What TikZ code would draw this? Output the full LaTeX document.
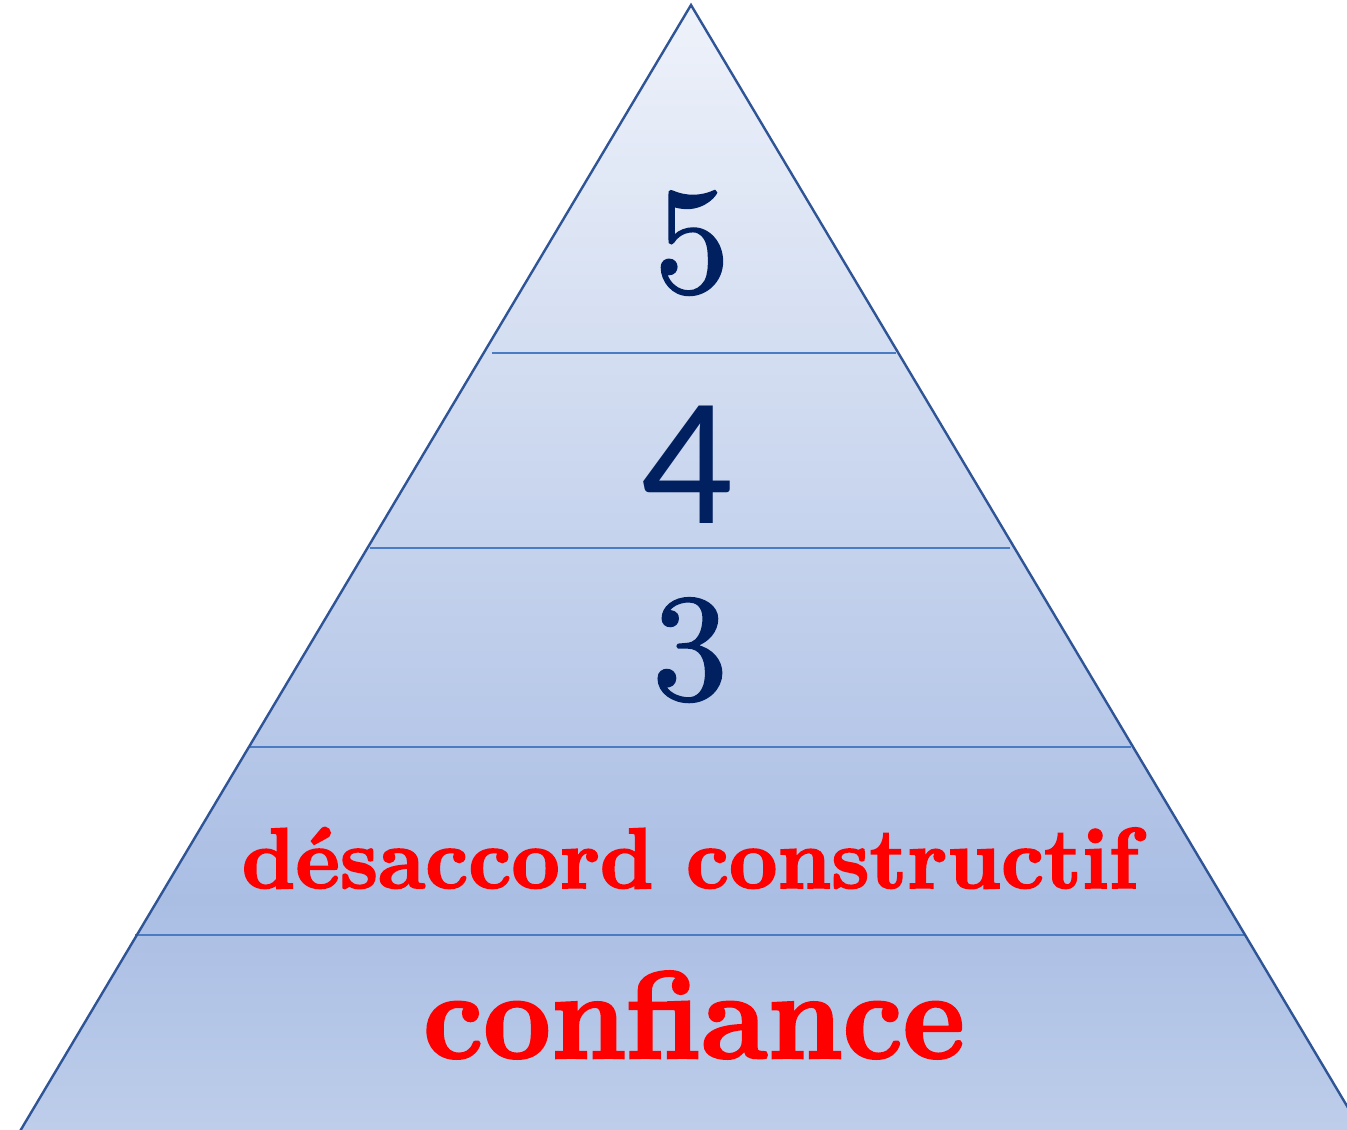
\documentclass[tikz,border=0pt]{standalone}
\usepackage{fontspec}
\setmainfont{Latin Modern Roman}
\newfontfamily\sansf{Carlito}
\newfontfamily\heavyf{lmroman10-bold}[Extension=.otf, FakeBold=2]
\newfontfamily\digf{lmroman10-regular}[Extension=.otf, FakeBold=1.2]
\definecolor{navy}{HTML}{002060}
\definecolor{outl}{HTML}{2F5597}
\definecolor{sepl}{HTML}{4A7CC4}
\definecolor{gtop}{HTML}{EEF2FA}
\definecolor{gmid}{HTML}{AABEE4}
\definecolor{gbot}{HTML}{C3D2EC}
\tikzset{
  digit/.style={anchor=base, text=navy, inner sep=0pt, font=\digf\fontsize{152}{160}\selectfont},
  redtxt/.style={anchor=base, text=red, inner sep=0pt},
  sep/.style={draw=sepl, line width=1.6pt},
}
\begin{document}
\begin{tikzpicture}[x=1pt,y=-1pt]
\useasboundingbox (0,0) rectangle (1347,1130);
\fill[white] (0,0) rectangle (1347,1130);
\begin{scope}
\clip (0,0) rectangle (1347,1130);
\coordinate (apex) at (691,5);
\coordinate (bl) at (-21,1200);
\coordinate (br) at (1403,1200);
\begin{scope}
\clip (apex) -- (bl) -- (br) -- cycle;
\shade[top color=gtop, bottom color=gmid] (0,4) rectangle (1347,900);
\shade[top color=gmid, bottom color=gbot] (0,899.5) rectangle (1347,1200);
\end{scope}
% separators
\coordinate (s1l) at (492,353); \coordinate (s1r) at (896,353);
\coordinate (s2l) at (370,548); \coordinate (s2r) at (1010,548);
\coordinate (s3l) at (250,747); \coordinate (s3r) at (1131,747);
\coordinate (s4l) at (135,935); \coordinate (s4r) at (1244,935);
\draw[sep] (s1l) -- (s1r);
\draw[sep] (s2l) -- (s2r);
\draw[sep] (s3l) -- (s3r);
\draw[sep] (s4l) -- (s4r);
\draw[outl, line width=2.4pt, line join=miter] (bl) -- (apex) -- (br);
\end{scope}
\node[digit] (n5) at (692,292) {5};
\node[digit, font=\sansf\fontsize{183}{190}\selectfont] (n4) at (687,523) {4};
\node[digit] (n3) at (690,699) {3};
\node[redtxt, font=\heavyf\fontsize{86}{90}\selectfont] (dc) at (690,888) {\scalebox{0.98}[1]{désaccord constructif}};
\node[redtxt, font=\heavyf\fontsize{124}{130}\selectfont] (cf) at (694,1058) {\scalebox{0.95}[1]{confiance}};
\end{tikzpicture}
\end{document}
